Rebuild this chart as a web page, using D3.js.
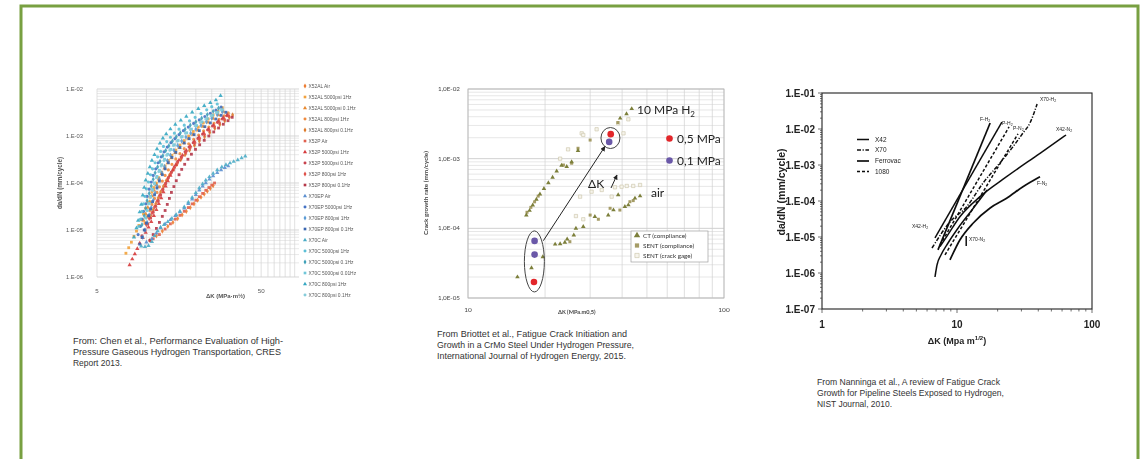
<!DOCTYPE html>
<html>
<head>
<meta charset="utf-8">
<script src="https://cdn.jsdelivr.net/npm/d3@7"></script>
<style>
  html, body { margin: 0; padding: 0; background: #fff; }
  svg { display: block; }
</style>
</head>
<body>
<svg id="slide" width="1145" height="459"></svg>
<script>
// ---------------------------------------------------------------
// Panel 1 — Chen et al. (CRES 2013): da/dN vs ΔK, 20 test series
// ---------------------------------------------------------------
const chenNames = [
  "X52AL Air", "X52AL 5000psi 1Hz", "X52AL 5000psi 0.1Hz", "X52AL 800psi 1Hz", "X52AL 800psi 0.1Hz",
  "X52P Air", "X52P 5000psi 1Hz", "X52P 5000psi 0.1Hz", "X52P 800psi 1Hz", "X52P 800psi 0.1Hz",
  "X70EP Air", "X70EP 5000psi 1Hz", "X70EP 800psi 1Hz", "X70EP 800psi 0.1Hz",
  "X70C Air", "X70C 5000psi 1Hz", "X70C 5000psi 0.1Hz", "X70C 5000psi 0.01Hz", "X70C 800psi 1Hz", "X70C 800psi 0.1Hz"
];
const chenColors = [
  "#ED7D31", "#F2A23C", "#E8892F", "#EF8A3E", "#DD7A2C",
  "#E0604F", "#D63A3C", "#C8434D", "#DF5048", "#B5384A",
  "#5B8FD0", "#4472C4", "#5B9BD5", "#3A66B0",
  "#4BACC6", "#5BBFD6", "#3FA0B8", "#6FC6D8", "#35A7C2", "#86CCDA"
];
const chenX52AL = [
  [[10.5,6e-6],[11.5,7.5e-6],[12.5,9.5e-6],[13.5,1.2e-5],[14.5,1.45e-5],[15.5,1.75e-5],[16.5,2.1e-5],[17.5,2.5e-5],[18.5,3e-5],[19.5,3.6e-5],[20.5,4.3e-5],[21.5,5e-5],[22.5,5.8e-5],[23.5,6.7e-5],[24.5,7.7e-5],[25.5,8.8e-5]],
  [[7.5,3.2e-6],[7.8,4.2e-6],[8.1,5.5e-6],[8.4,7.3e-6],[8.7,9.5e-6],[9,1.25e-5],[9.3,1.65e-5],[9.6,2.2e-5],[9.9,2.9e-5],[10.2,3.8e-5],[10.5,5e-5],[10.8,6.4e-5],[11.1,8e-5],[11.5,1e-4],[11.9,1.3e-4],[12.4,1.7e-4],[13,2.3e-4],[13.6,3e-4],[14.3,3.9e-4],[15.1,5e-4],[16,6.4e-4],[17,8e-4],[18.1,1e-3],[19.3,1.25e-3],[20.7,1.55e-3],[22.2,1.9e-3],[23.8,2.3e-3],[25.5,2.8e-3],[27.3,3.4e-3],[29,4e-3]],
  [[9.6,1.6e-5],[9.9,2.2e-5],[10.2,3e-5],[10.5,4e-5],[10.8,5.3e-5],[11.1,7e-5],[11.5,9.2e-5],[11.9,1.2e-4],[12.4,1.58e-4],[12.9,2.05e-4],[13.5,2.65e-4],[14.2,3.4e-4],[15,4.4e-4],[15.9,5.6e-4],[16.9,7.1e-4],[18,8.8e-4],[19.2,1.08e-3],[20.6,1.32e-3],[22.1,1.6e-3],[23.7,1.95e-3],[25.5,2.35e-3],[27.4,2.8e-3],[29.4,3.3e-3]],
  [[9.8,1.4e-5],[10.1,1.9e-5],[10.5,2.6e-5],[10.8,3.5e-5],[11.2,4.7e-5],[11.6,6.3e-5],[12,8.3e-5],[12.5,1.1e-4],[13,1.45e-4],[13.6,1.9e-4],[14.3,2.5e-4],[15.1,3.25e-4],[16,4.2e-4],[17,5.4e-4],[18.1,6.8e-4],[19.4,8.5e-4],[20.8,1.05e-3],[22.3,1.28e-3],[24,1.55e-3],[25.8,1.87e-3],[27.7,2.25e-3],[29.7,2.7e-3],[31.5,3.1e-3]],
  [[10.6,2e-5],[11,2.7e-5],[11.4,3.6e-5],[11.8,4.8e-5],[12.2,6.4e-5],[12.7,8.5e-5],[13.2,1.12e-4],[13.8,1.47e-4],[14.5,1.9e-4],[15.3,2.45e-4],[16.2,3.15e-4],[17.2,4e-4],[18.3,5e-4],[19.6,6.3e-4],[21,7.8e-4],[22.6,9.6e-4],[24.3,1.18e-3],[26.1,1.45e-3],[28,1.75e-3],[30,2.1e-3],[32,2.5e-3],[33.5,2.8e-3]]
];
const chenX52P = [
  [[11,6.5e-6],[12,8e-6],[13,1.05e-5],[14,1.35e-5],[15,1.7e-5],[16,2.05e-5],[17,2.5e-5],[18,3e-5],[19,3.6e-5],[20,4.3e-5],[21,5.1e-5],[22,6e-5],[23,7e-5],[24,8e-5],[25,9e-5],[26,1e-4]],
  [[7.9,1.8e-6],[8.2,2.4e-6],[8.5,3.1e-6],[8.8,4e-6],[9.1,5.2e-6],[9.5,6.8e-6],[9.9,8.8e-6],[10.3,1.15e-5],[10.7,1.5e-5],[11.1,2e-5],[11.5,2.7e-5],[11.9,3.6e-5],[12.3,4.8e-5],[12.7,6.4e-5],[13.1,8.5e-5],[13.5,1.1e-4],[14,1.45e-4],[14.5,1.9e-4],[15.1,2.45e-4],[15.8,3.1e-4],[16.6,3.9e-4],[17.5,4.9e-4],[18.5,6.1e-4],[19.6,7.6e-4],[20.9,9.4e-4],[22.3,1.15e-3],[23.9,1.4e-3],[25.6,1.7e-3],[27.4,2.05e-3],[29.3,2.45e-3],[31,2.8e-3]],
  [[9.4,7.5e-6],[9.8,1e-5],[10.2,1.35e-5],[10.6,1.8e-5],[11,2.4e-5],[11.4,3.2e-5],[11.8,4.2e-5],[12.2,5.6e-5],[12.6,7.4e-5],[13.1,9.8e-5],[13.6,1.3e-4],[14.2,1.7e-4],[14.8,2.2e-4],[15.5,2.85e-4],[16.3,3.6e-4],[17.2,4.6e-4],[18.2,5.8e-4],[19.3,7.2e-4],[20.6,8.9e-4],[22,1.1e-3],[23.6,1.35e-3],[25.3,1.63e-3],[27.1,1.95e-3],[29,2.3e-3],[31,2.7e-3]],
  [[10,1.3e-5],[10.4,1.75e-5],[10.8,2.3e-5],[11.2,3.1e-5],[11.6,4.1e-5],[12,5.4e-5],[12.5,7.1e-5],[13,9.3e-5],[13.5,1.22e-4],[14.1,1.6e-4],[14.8,2.1e-4],[15.5,2.7e-4],[16.4,3.45e-4],[17.4,4.4e-4],[18.5,5.6e-4],[19.7,7e-4],[21.1,8.7e-4],[22.6,1.07e-3],[24.2,1.3e-3],[26,1.58e-3],[27.9,1.9e-3],[29.9,2.27e-3],[31.8,2.65e-3]],
  [[10.5,6e-6],[11,8e-6],[11.5,1.08e-5],[12,1.45e-5],[12.5,1.95e-5],[13,2.6e-5],[13.4,3.5e-5],[13.8,4.7e-5],[14.2,6.3e-5],[14.7,8.4e-5],[15.2,1.12e-4],[15.8,1.5e-4],[16.4,1.95e-4],[17.1,2.5e-4],[17.9,3.2e-4],[18.8,4.1e-4],[19.9,5.2e-4],[21.1,6.5e-4],[22.5,8.1e-4],[24,1e-3],[25.7,1.22e-3],[27.5,1.48e-3],[29.4,1.78e-3],[31.4,2.12e-3],[33.3,2.5e-3]]
];
const chenX70EP = [
  [[10,5.5e-6],[10.8,6.5e-6],[11.5,8.5e-6],[12.2,1.1e-5],[13,1.35e-5],[14,1.65e-5],[15,2e-5],[16,2.4e-5],[17,2.9e-5],[18,3.6e-5],[19,4.5e-5],[20,5.6e-5],[21,7e-5],[22,8.5e-5],[23,1e-4],[24.2,1.2e-4],[25.5,1.4e-4],[27,1.65e-4],[28.5,1.9e-4],[30,2.1e-4],[31.5,2.3e-4]],
  [[8.9,8e-6],[9.2,1.2e-5],[9.4,1.7e-5],[9.6,2.5e-5],[9.9,3.6e-5],[10.1,5.2e-5],[10.4,7.4e-5],[10.7,1.05e-4],[11,1.45e-4],[11.4,2e-4],[11.8,2.7e-4],[12.3,3.6e-4],[12.8,4.6e-4],[13.4,5.8e-4],[14.1,7.2e-4],[14.9,8.8e-4],[15.8,1.07e-3],[16.8,1.3e-3],[18,1.55e-3],[19.4,1.85e-3],[21,2.2e-3],[22.7,2.6e-3],[24.5,3.05e-3],[26.5,3.55e-3],[28.5,4.1e-3]],
  [[9.5,7e-6],[9.8,1e-5],[10.1,1.45e-5],[10.4,2.1e-5],[10.7,3e-5],[11,4.3e-5],[11.3,6.1e-5],[11.6,8.6e-5],[12,1.2e-4],[12.4,1.65e-4],[12.9,2.25e-4],[13.4,3e-4],[14,3.9e-4],[14.7,5e-4],[15.5,6.3e-4],[16.4,7.8e-4],[17.4,9.5e-4],[18.6,1.15e-3],[20,1.4e-3],[21.5,1.68e-3],[23.2,2e-3],[25,2.4e-3],[27,2.85e-3],[29,3.3e-3]],
  [[9.1,5e-6],[9.4,7e-6],[9.7,1e-5],[10,1.4e-5],[10.3,2e-5],[10.6,2.8e-5],[10.9,4e-5],[11.2,5.6e-5],[11.6,7.8e-5],[12,1.1e-4],[12.5,1.5e-4],[13,2e-4],[13.6,2.7e-4],[14.3,3.5e-4],[15.1,4.5e-4],[16,5.7e-4],[17,7.1e-4],[18.2,8.8e-4],[19.5,1.07e-3],[21,1.3e-3],[22.7,1.58e-3],[24.5,1.9e-3],[26.5,2.3e-3],[28.5,2.75e-3],[30.5,3.2e-3]]
];
const chenX70C = [
  [[9.3,4.5e-6],[9.8,4.4e-6],[10.3,4.6e-6],[10.8,5.6e-6],[11.2,7.5e-6],[11.7,9.5e-6],[12.2,1.15e-5],[12.8,1.3e-5],[13.5,1.5e-5],[14.3,1.75e-5],[15.2,2.1e-5],[16,2.5e-5],[17,3.1e-5],[18,3.9e-5],[19,4.9e-5],[20,6.2e-5],[21,7.8e-5],[22,9.5e-5],[23,1.15e-4],[24.2,1.35e-4],[25.5,1.6e-4],[27,1.9e-4],[28.8,2.2e-4],[30.5,2.45e-4],[32.3,2.65e-4],[34,2.85e-4],[36,3.1e-4],[38,3.4e-4],[40,3.7e-4]],
  [[9,1.2e-5],[9.2,1.7e-5],[9.4,2.5e-5],[9.6,3.6e-5],[9.8,5.2e-5],[10,7.5e-5],[10.3,1.05e-4],[10.6,1.5e-4],[10.9,2e-4],[11.3,2.7e-4],[11.7,3.6e-4],[12.2,4.7e-4],[12.7,6e-4],[13.3,7.6e-4],[14,9.4e-4],[14.8,1.15e-3],[15.8,1.4e-3],[17,1.7e-3],[18.3,2.1e-3],[19.8,2.5e-3],[21.5,3e-3],[23.3,3.6e-3],[25,4.2e-3],[27,4.8e-3]],
  [[9.4,1.3e-5],[9.7,2e-5],[9.9,2.9e-5],[10.1,4.2e-5],[10.4,6e-5],[10.7,8.6e-5],[11,1.2e-4],[11.3,1.65e-4],[11.7,2.2e-4],[12.1,2.9e-4],[12.6,3.8e-4],[13.1,4.9e-4],[13.7,6.2e-4],[14.4,7.8e-4],[15.2,9.6e-4],[16.1,1.17e-3],[17.2,1.4e-3],[18.5,1.7e-3],[20,2e-3],[21.7,2.4e-3],[23.5,2.85e-3],[25.5,3.35e-3],[27.5,3.9e-3]],
  [[9.9,1.8e-5],[10.1,2.6e-5],[10.4,3.7e-5],[10.6,5.2e-5],[10.9,7.3e-5],[11.2,1e-4],[11.6,1.38e-4],[12,1.85e-4],[12.4,2.45e-4],[12.9,3.2e-4],[13.5,4.1e-4],[14.1,5.2e-4],[14.8,6.5e-4],[15.6,8e-4],[16.5,9.7e-4],[17.6,1.17e-3],[18.8,1.4e-3],[20.2,1.67e-3],[21.8,2e-3],[23.5,2.35e-3],[25.3,2.75e-3],[27.2,3.2e-3],[29,3.6e-3]],
  [[8.4,7e-6],[8.7,1.1e-5],[8.9,1.6e-5],[9.1,2.4e-5],[9.3,3.5e-5],[9.5,5.5e-5],[9.7,8e-5],[9.9,1.15e-4],[10.2,1.6e-4],[10.5,2.2e-4],[10.8,3e-4],[11.2,4e-4],[11.6,5.3e-4],[12.1,7e-4],[12.6,9e-4],[13.2,1.1e-3],[14,1.4e-3],[15,1.75e-3],[16.2,2.15e-3],[17.5,2.6e-3],[19,3.2e-3],[20.7,3.8e-3],[22.5,4.4e-3],[24.5,5.1e-3],[26.5,5.8e-3],[28.3,7.2e-3]],
  [[10.3,3.6e-5],[10.6,5e-5],[10.9,7e-5],[11.2,9.6e-5],[11.5,1.3e-4],[11.9,1.75e-4],[12.3,2.3e-4],[12.8,3e-4],[13.3,3.9e-4],[13.9,5e-4],[14.6,6.3e-4],[15.4,7.8e-4],[16.3,9.5e-4],[17.3,1.15e-3],[18.5,1.38e-3],[19.8,1.65e-3],[21.3,1.95e-3],[23,2.3e-3],[24.8,2.7e-3],[26.7,3.15e-3],[28.5,3.6e-3]]
];
const chenSeries = [...chenX52AL, ...chenX52P, ...chenX70EP, ...chenX70C];
const chenYTicks = [1e-2, 1e-3, 1e-4, 1e-5, 1e-6];
const chenYLabels = ["1.E-02", "1.E-03", "1.E-04", "1.E-05", "1.E-06"];
const chenXTicks = [5, 50];
const chenXGrid = [5, 10, 15, 20, 25, 30, 35, 40, 45, 50, 55, 60, 65, 70, 75, 80];

// ---------------------------------------------------------------
// Panel 2 — Briottet et al. (IJHE 2015): CrMo steel
// ---------------------------------------------------------------
const briH2CT = [[15.6,2.0e-5],[17.7,2.7e-5],[19.6,3.9e-5],[16.9,1.55e-4],[17.4,1.8e-4],[17.9,2.15e-4],[18.5,2.6e-4],[19.1,3.1e-4],[19.8,3.7e-4],[20.6,4.5e-4],[21.4,5.4e-4],[22.2,6.6e-4],[23.2,8.0e-4],[24.3,7.7e-4],[25.4,9.0e-4],[26.9,1.3e-3],[39.3,3.8e-3],[41.6,4.4e-3],[43.6,5.2e-3]];
const briH2SentComp = [[17.0,1.7e-4],[17.6,2.0e-4],[18.2,2.4e-4],[18.8,2.9e-4],[23.6,8.1e-4],[25.4,8.6e-4],[26.9,1.41e-3],[30.0,1.85e-3],[38.5,3.3e-3]];
const briH2SentGage = [[22.9,1.0e-3],[24.6,1.36e-3],[27.8,2.31e-3],[28.2,2.19e-3],[31.8,2.64e-3],[38.6,3.22e-3],[40.5,2.31e-3],[42.3,3.67e-3]];
const briAirCT = [[21.9,5.9e-5],[22.9,5.96e-5],[23.9,6.3e-5],[24.4,6.97e-5],[25.9,8.0e-5],[26.4,1.0e-4],[28.2,1.06e-4],[31.3,1.47e-4],[35.3,1.55e-4],[37.0,1.83e-4],[38.6,3.01e-4],[41.0,2.05e-4],[42.3,2.16e-4],[44.9,2.70e-4],[47.0,2.91e-4]];
const briAirSentComp = [[25.0,6.43e-5],[30.0,1.55e-4],[32.3,1.35e-4],[35.9,1.94e-4],[39.2,1.83e-4],[42.9,2.41e-4],[44.2,2.5e-4]];
const briAirSentGage = [[26.4,1.5e-4],[28.2,1.35e-4],[27.4,2.85e-4],[30.4,3.36e-4],[33.3,3.55e-4],[36.4,2.85e-4],[37.5,3.88e-4],[39.8,3.96e-4],[41.7,4.06e-4],[44.2,4.06e-4],[47.0,4.19e-4]];
const briLowPressure = [[18.2,6.6e-5,"0,1"],[18.2,4.2e-5,"0,1"],[18.1,1.7e-5,"0,5"]];
const briHighPressure = [[36.1,2.25e-3,"0,5"],[35.6,1.74e-3,"0,1"]];
const briYTicks = [1e-2, 1e-3, 1e-4, 1e-5];
const briYLabels = ["1,0E-02", "1,0E-03", "1,0E-04", "1,0E-05"];
const briXTicks = [10, 100];
const briLegend = ["CT (compliance)", "SENT (compliance)", "SENT (crack gage)"];

// ---------------------------------------------------------------
// Panel 3 — Nanninga et al. (NIST 2010): pipeline steels
// ---------------------------------------------------------------
const nanX42H2 = [[6.87,9.4e-6],[21.5,1.56e-2]];
const nanFH2 = [[7.23,4.4e-6],[17.6,1.47e-2]];
const nanPH2 = [[7.48,6.0e-6],[24.3,1.14e-2]];
const nanPN2 = [[8.15,3.2e-6],[28.3,7.3e-3]];
const nanX70H2 = [[6.53,4.95e-6],[8.87,2.61e-5],[11.8,6.95e-5],[15.6,3.16e-4],[20.8,1.14e-3],[26.0,3.22e-3],[30.8,7.74e-3],[34.7,1.47e-2],[37.2,2.78e-2],[39.2,4.95e-2]];
const nanX42N2 = [[7.48,5.38e-6],[8.39,1.02e-5],[10.5,3.66e-5],[14.8,1.32e-4],[23.3,4.73e-4],[41.2,2.11e-3],[64.2,6.81e-3]];
const nanFN2 = [[8.87,2.30e-6],[10.5,8.26e-6],[13.2,2.45e-5],[17.6,6.39e-5],[23.3,1.19e-4],[30.8,2.50e-4],[41.2,4.73e-4]];
const nanX70N2 = [[6.87,7.74e-7],[7.11,1.67e-6],[7.61,3.16e-6],[8.58,6.81e-6],[10.2,1.78e-5],[12.9,5.62e-5],[16.7,2.02e-4]];
const nanX70N2Mark = [[11.7,5.6e-6],[11.7,1.07e-5]];
const nanYTicks = [1e-1, 1e-2, 1e-3, 1e-4, 1e-5, 1e-6, 1e-7];
const nanYLabels = ["1.E-01", "1.E-02", "1.E-03", "1.E-04", "1.E-05", "1.E-06", "1.E-07"];
const nanXTicks = [1, 10, 100];
const nanLegend = ["X42", "X70", "Ferrovac", "1080"];

// Captions under each panel
const captionChen = ["From: Chen et al., Performance Evaluation  of High-", "Pressure Gaseous Hydrogen Transportation, CRES", "Report 2013."];
const captionBriottet = ["From Briottet et al., Fatigue Crack Initiation and", "Growth in a CrMo Steel Under Hydrogen Pressure,", "International Journal of Hydrogen Energy, 2015."];
const captionNanninga = ["From Nanninga et al., A review of Fatigue Crack", "Growth for Pipeline Steels Exposed to Hydrogen,", "NIST Journal, 2010."];

// ---------------------------------------------------------------
const svg = d3.select("#slide");
const defs = svg.append("defs");
defs.append("marker").attr("id", "arrowHead").attr("viewBox", "0 0 10 10")
  .attr("refX", 9).attr("refY", 5).attr("markerWidth", 5).attr("markerHeight", 5)
  .attr("orient", "auto-start-reverse")
  .append("path").attr("d", "M0,0 L10,5 L0,10 z").attr("fill", "#222");
defs.append("filter").attr("id", "soft").append("feGaussianBlur").attr("stdDeviation", 0.3);

// slide frame
svg.append("rect").attr("x", 21).attr("y", 6).attr("width", 1117).attr("height", 470)
  .attr("fill", "none").attr("stroke", "#78a041").attr("stroke-width", 3);

const NARROW = "'Liberation Sans Narrow','Arial Narrow','Liberation Sans',Arial,sans-serif";
const ARIAL = "'Liberation Sans',Arial,sans-serif";
const CALIB = "Lato,'Open Sans',sans-serif";

// ======================= Panel 1 ===============================
{
  const g = svg.append("g").attr("filter", "url(#soft)");
  const x = d3.scaleLog().domain([5, 85]).range([97, 299]);
  const y = d3.scaleLog().domain([1e-6, 1e-2]).range([277, 89]);

  // horizontal gridlines (every minor value)
  g.append("g").selectAll("line").data(y.ticks()).join("line")
    .attr("x1", x.range()[0]).attr("x2", x.range()[1])
    .attr("y1", d => y(d)).attr("y2", d => y(d))
    .attr("stroke", d => chenYTicks.includes(d) ? "#c4c4c4" : "#dedede").attr("stroke-width", 0.7);
  g.append("g").selectAll("line").data(chenXGrid).join("line")
    .attr("x1", d => x(d)).attr("x2", d => x(d))
    .attr("y1", y.range()[0]).attr("y2", y.range()[1])
    .attr("stroke", "#d4d4d4").attr("stroke-width", 0.7);

  // tick labels
  g.append("g").selectAll("text").data(chenYTicks).join("text")
    .attr("x", 83).attr("y", d => y(d) + 2)
    .attr("text-anchor", "end").attr("font-family", ARIAL).attr("font-size", 5.8).attr("fill", "#595959")
    .text((d, i) => chenYLabels[i]);
  g.append("g").selectAll("text").data(chenXTicks).join("text")
    .attr("x", d => x(d)).attr("y", 293)
    .attr("text-anchor", "middle").attr("font-family", ARIAL).attr("font-size", 6.2).attr("fill", "#595959")
    .text(d => d);

  g.append("text").attr("transform", "translate(62,183) rotate(-90)")
    .attr("text-anchor", "middle").attr("font-family", ARIAL).attr("font-size", 6.3)
    .attr("font-weight", "bold").attr("fill", "#555").text("da/dN (mm/cycle)");
  g.append("text").attr("x", 245).attr("y", 298).attr("text-anchor", "end")
    .attr("font-family", ARIAL).attr("font-size", 6).attr("font-weight", "bold").attr("fill", "#555")
    .text("ΔK (MPa·m½)");

  // series markers
  const shapes = [d3.symbolDiamond, d3.symbolSquare, d3.symbolTriangle, d3.symbolCircle];
  chenSeries.forEach((pts, i) => {
    const sym = d3.symbol().type(shapes[i % shapes.length]).size(8);
    g.append("g").selectAll("path").data(pts).join("path")
      .attr("transform", d => `translate(${x(d[0])},${y(d[1])})`)
      .attr("d", sym).attr("fill", chenColors[i]).attr("opacity", 0.9);
  });

  // legend
  const lg = g.append("g");
  chenNames.forEach((n, i) => {
    const ly = 86 + i * 11;
    lg.append("path").attr("transform", `translate(305,${ly})`)
      .attr("d", d3.symbol().type(shapes[i % shapes.length]).size(7)).attr("fill", chenColors[i]);
    lg.append("text").attr("x", 308.5).attr("y", ly + 1.8)
      .attr("font-family", ARIAL).attr("font-size", 4.9).attr("fill", "#595959").text(n);
  });
}

// ======================= Panel 2 ===============================
{
  const g = svg.append("g").attr("filter", "url(#soft)");
  const x = d3.scaleLog().domain([10, 100]).range([468, 724]);
  const y = d3.scaleLog().domain([1e-5, 1e-2]).range([298, 89]);

  g.append("g").selectAll("line").data(y.ticks()).join("line")
    .attr("x1", 468).attr("x2", 724).attr("y1", d => y(d)).attr("y2", d => y(d))
    .attr("stroke", d => briYTicks.includes(d) ? "#bdbdbd" : "#dcdcdc").attr("stroke-width", 0.7);
  g.append("g").selectAll("line").data(x.ticks()).join("line")
    .attr("x1", d => x(d)).attr("x2", d => x(d)).attr("y1", 89).attr("y2", 298)
    .attr("stroke", "#d0d0d0").attr("stroke-width", 0.7);
  g.append("rect").attr("x", 468).attr("y", 89).attr("width", 256).attr("height", 209)
    .attr("fill", "none").attr("stroke", "#b5b5b5").attr("stroke-width", 0.8);

  g.append("g").selectAll("text").data(briYTicks).join("text")
    .attr("x", 460).attr("y", d => y(d) + 2).attr("text-anchor", "end")
    .attr("font-family", CALIB).attr("font-size", 6.3).attr("fill", "#444")
    .text((d, i) => briYLabels[i]);
  g.append("g").selectAll("text").data(briXTicks).join("text")
    .attr("x", d => x(d)).attr("y", 312).attr("text-anchor", "middle")
    .attr("font-family", CALIB).attr("font-size", 6.5).attr("fill", "#444").text(d => d);
  g.append("text").attr("transform", "translate(428,193) rotate(-90)").attr("text-anchor", "middle")
    .attr("font-family", CALIB).attr("font-size", 6.4).attr("font-weight", "bold").attr("fill", "#444")
    .text("Crack growth rate (mm/cycle)");
  g.append("text").attr("x", 558).attr("y", 314)
    .attr("font-family", CALIB).attr("font-size", 5.6).attr("font-weight", "bold").attr("fill", "#444")
    .text("ΔK (MPa.m0,5)");

  const tri = d3.symbol().type(d3.symbolTriangle).size(9);
  const sq = d3.symbol().type(d3.symbolSquare).size(9);
  const osq = d3.symbol().type(d3.symbolSquare).size(11);
  const put = (data, sym, fill, stroke) => g.append("g").selectAll("path").data(data).join("path")
    .attr("transform", d => `translate(${x(d[0])},${y(d[1])})`).attr("d", sym)
    .attr("fill", fill).attr("stroke", stroke || "none").attr("stroke-width", 0.6);
  put(briH2SentGage, osq, "#f6f4ec", "#c9c2a6");
  put(briAirSentGage, osq, "#f6f4ec", "#c9c2a6");
  put(briH2SentComp, sq, "#a59c66");
  put(briAirSentComp, sq, "#a59c66");
  put(briH2CT, tri, "#7c7f3a");
  put(briAirCT, tri, "#7c7f3a");

  const pColor = p => p === "0,5" ? "#e2262b" : "#6a58a8";
  // ellipse around the low-ΔK points
  const lowX = briLowPressure.map(d => x(d[0])), lowY = briLowPressure.map(d => y(d[1]));
  const ecx = d3.mean(lowX), ecy = (d3.min(lowY) + d3.max(lowY)) / 2;
  const erx = 10, ery = (d3.max(lowY) - d3.min(lowY)) / 2 + 10;
  g.append("ellipse").attr("cx", ecx).attr("cy", ecy).attr("rx", erx).attr("ry", ery)
    .attr("fill", "none").attr("stroke", "#444").attr("stroke-width", 1);
  // circle around the high-ΔK points
  const ccx = d3.mean(briHighPressure, d => x(d[0])) + 0.5;
  const ccy = d3.mean(briHighPressure, d => y(d[1]));
  const cr = 10;
  g.append("ellipse").attr("cx", ccx).attr("cy", ccy).attr("rx", cr * 0.95).attr("ry", cr * 1.05)
    .attr("fill", "none").attr("stroke", "#444").attr("stroke-width", 1);
  g.selectAll(".pdot").data([...briLowPressure, ...briHighPressure]).join("circle")
    .attr("cx", d => x(d[0])).attr("cy", d => y(d[1])).attr("r", 3.3).attr("fill", d => pColor(d[2]));

  // ΔK shift arrow
  g.append("line").attr("x1", ecx + erx * 0.9).attr("y1", ecy - ery * 0.68)
    .attr("x2", ccx - cr * 0.55).attr("y2", ccy + cr * 0.85)
    .attr("stroke", "#222").attr("stroke-width", 1).attr("marker-end", "url(#arrowHead)");
  g.append("text").attr("x", 588).attr("y", 188).attr("font-family", CALIB).attr("font-size", 12)
    .attr("fill", "#222").text("ΔK");
  g.append("line").attr("x1", 611).attr("y1", 188).attr("x2", 617).attr("y2", 175)
    .attr("stroke", "#222").attr("stroke-width", 1).attr("marker-end", "url(#arrowHead)");

  // annotations
  const h2 = g.append("text").attr("x", 637).attr("y", 114).attr("font-family", CALIB)
    .attr("font-size", 12).attr("fill", "#222");
  h2.append("tspan").text("10 MPa H");
  h2.append("tspan").attr("font-size", 8).attr("dy", 3).text("2");
  [["0,5", 138.5], ["0,1", 160.5]].forEach(([p, yy]) => {
    g.append("circle").attr("cx", 669.5).attr("cy", yy).attr("r", 3.3).attr("fill", pColor(p));
    g.append("text").attr("x", 677).attr("y", yy + 4.3).attr("font-family", CALIB)
      .attr("font-size", 12).attr("fill", "#222").text(p + " MPa");
  });
  g.append("text").attr("x", 651).attr("y", 197).attr("font-family", CALIB).attr("font-size", 12)
    .attr("fill", "#222").text("air");

  // legend box
  const lg = g.append("g");
  lg.append("rect").attr("x", 631).attr("y", 231).attr("width", 77).attr("height", 31)
    .attr("fill", "#fff").attr("stroke", "#a0a0a0").attr("stroke-width", 0.7);
  const lsym = [[tri, "#7c7f3a", null], [sq, "#a59c66", null], [osq, "#f6f4ec", "#c9c2a6"]];
  briLegend.forEach((t, i) => {
    const ly = 236 + i * 10;
    lg.append("path").attr("transform", `translate(637,${ly - 0.5})`)
      .attr("d", i === 0 ? d3.symbol().type(d3.symbolTriangle).size(18) : d3.symbol().type(d3.symbolSquare).size(18))
      .attr("fill", lsym[i][1]).attr("stroke", lsym[i][2] || "none").attr("stroke-width", 0.6);
    lg.append("text").attr("x", 643).attr("y", ly + 1.8).attr("font-family", CALIB)
      .attr("font-size", 6.3).attr("fill", "#333").text(t);
  });
}

// ======================= Panel 3 ===============================
{
  const g = svg.append("g").attr("filter", "url(#soft)");
  const x = d3.scaleLog().domain([1, 100]).range([822, 1092]);
  const y = d3.scaleLog().domain([1e-7, 1e-1]).range([309, 93]);

  g.append("rect").attr("x", 822).attr("y", 93).attr("width", 270).attr("height", 216)
    .attr("fill", "none").attr("stroke", "#222").attr("stroke-width", 1.1);
  // left ticks
  g.append("g").selectAll("line").data(y.ticks()).join("line")
    .attr("x1", d => nanYTicks.includes(d) ? 818 : 820).attr("x2", 822)
    .attr("y1", d => y(d)).attr("y2", d => y(d)).attr("stroke", "#333").attr("stroke-width", 0.7);
  // bottom ticks
  g.append("g").selectAll("line").data(x.ticks()).join("line")
    .attr("x1", d => x(d)).attr("x2", d => x(d))
    .attr("y1", 309).attr("y2", d => nanXTicks.includes(d) ? 313 : 311.5)
    .attr("stroke", "#333").attr("stroke-width", 0.7);

  g.append("g").selectAll("text").data(nanYTicks).join("text")
    .attr("x", 815).attr("y", d => y(d) + 3.5).attr("text-anchor", "end")
    .attr("font-family", ARIAL).attr("font-weight", "bold").attr("font-size", 10).attr("fill", "#222")
    .text((d, i) => nanYLabels[i]);
  g.append("g").selectAll("text").data(nanXTicks).join("text")
    .attr("x", d => x(d)).attr("y", 328).attr("text-anchor", "middle")
    .attr("font-family", ARIAL).attr("font-weight", "bold").attr("font-size", 10).attr("fill", "#222")
    .text(d => d);
  g.append("text").attr("transform", "translate(785,192) rotate(-90)").attr("text-anchor", "middle")
    .attr("font-family", ARIAL).attr("font-weight", "bold").attr("font-size", 10.5).attr("fill", "#222")
    .text("da/dN (mm/cycle)");
  const xt = g.append("text").attr("x", 957).attr("y", 344).attr("text-anchor", "middle")
    .attr("font-family", ARIAL).attr("font-weight", "bold").attr("font-size", 9).attr("fill", "#222");
  xt.append("tspan").text("ΔK (Mpa m");
  xt.append("tspan").attr("font-size", 6).attr("dy", -4).text("1/2");
  xt.append("tspan").attr("dy", 4).text(")");

  const line = d3.line().x(d => x(d[0])).y(d => y(d[1])).curve(d3.curveMonotoneX);
  const styles = {
    x42: { dash: null, w: 1.5 },
    x70: { dash: "4,1.6,1.2,1.6", w: 1.5 },
    ferro: { dash: null, w: 1.7 },
    p1080: { dash: "3,2", w: 1.5 }
  };
  const curves = [
    [nanX42H2, styles.x42], [nanX42N2, styles.x42],
    [nanFH2, styles.ferro], [nanFN2, styles.ferro],
    [nanPH2, styles.p1080], [nanPN2, styles.p1080],
    [nanX70H2, styles.x70], [nanX70N2, styles.x42], [nanX70N2Mark, { dash: null, w: 1.5 }]
  ];
  curves.forEach(([pts, s]) => {
    g.append("path").attr("d", line(pts)).attr("fill", "none").attr("stroke", "#111")
      .attr("stroke-width", s.w).attr("stroke-dasharray", s.dash);
  });

  // curve labels
  const labels = [
    ["X70-H", 1040, 101], ["F-H", 980, 121], ["P-H", 1002, 125], ["P-N", 1013, 130],
    ["X42-N", 1056, 131], ["F-N", 1037, 185], ["X70-N", 969, 241], ["X42-H", 912, 228]
  ];
  labels.forEach(([t, lx, ly]) => {
    const tx = g.append("text").attr("x", lx).attr("y", ly).attr("font-family", ARIAL)
      .attr("font-size", 5).attr("fill", "#222");
    tx.append("tspan").text(t);
    tx.append("tspan").attr("font-size", 3.6).attr("dy", 1.3).text("2");
  });

  // legend
  const legStyles = [styles.x42, styles.x70, styles.ferro, styles.p1080];
  nanLegend.forEach((t, i) => {
    const ly = [139.5, 150, 161, 171.5][i];
    g.append("line").attr("x1", 857).attr("x2", 869).attr("y1", ly).attr("y2", ly)
      .attr("stroke", "#111").attr("stroke-width", legStyles[i].w)
      .attr("stroke-dasharray", legStyles[i].dash);
    g.append("text").attr("x", 875).attr("y", ly + 2.3).attr("font-family", ARIAL)
      .attr("font-size", 6.5).attr("fill", "#222").text(t);
  });
}

// ======================= Captions ==============================
function caption(lines, x0, y0, widths) {
  lines.forEach((t, i) => {
    svg.append("text").attr("x", x0).attr("y", y0 + i * 11)
      .attr("font-family", NARROW).attr("font-size", 9.8).attr("fill", "#333")
      .attr("textLength", widths[i]).attr("lengthAdjust", "spacingAndGlyphs").text(t);
  });
}
caption(captionChen, 73, 344, [210, 208, 49]);
caption(captionBriottet, 437, 337, [190, 197, 189]);
caption(captionNanninga, 817, 385, [183, 187, 75]);
</script>
</body>
</html>
